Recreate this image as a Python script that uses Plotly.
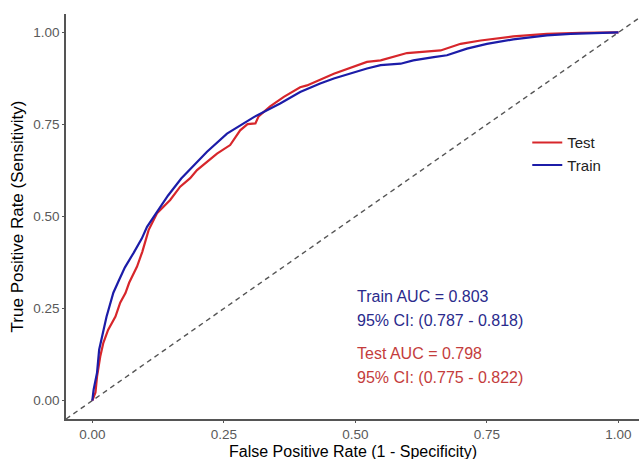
import plotly.graph_objects as go

# ROC curve points
train_fpr = [0, 0.0025, 0.009, 0.013, 0.027, 0.040, 0.050, 0.062, 0.078, 0.094, 0.104, 0.126,
             0.144, 0.169, 0.218, 0.256, 0.307, 0.357, 0.395, 0.433, 0.459, 0.522, 0.548,
             0.586, 0.610, 0.649, 0.674, 0.712, 0.750, 0.800, 0.864, 0.909, 0.966, 1.0]
train_tpr = [0, 0.030, 0.076, 0.138, 0.228, 0.293, 0.325, 0.362, 0.400, 0.440, 0.472, 0.518,
             0.557, 0.603, 0.676, 0.725, 0.770, 0.807, 0.838, 0.861, 0.875, 0.902, 0.911,
             0.915, 0.924, 0.933, 0.938, 0.956, 0.969, 0.981, 0.992, 0.996, 0.999, 1.0]

test_fpr = [0, 0.006, 0.009, 0.015, 0.021, 0.030, 0.044, 0.053, 0.063, 0.070, 0.085, 0.095,
            0.107, 0.123, 0.148, 0.167, 0.186, 0.199, 0.237, 0.262, 0.281, 0.295, 0.310,
            0.316, 0.338, 0.364, 0.395, 0.408, 0.459, 0.522, 0.548, 0.598, 0.662, 0.700,
            0.738, 0.800, 0.864, 0.928, 1.0]
test_tpr = [0, 0.022, 0.065, 0.119, 0.157, 0.192, 0.228, 0.266, 0.292, 0.320, 0.364, 0.404,
            0.463, 0.509, 0.545, 0.581, 0.604, 0.626, 0.671, 0.694, 0.734, 0.751, 0.753,
            0.772, 0.799, 0.825, 0.851, 0.856, 0.888, 0.920, 0.924, 0.944, 0.951, 0.969,
            0.978, 0.989, 0.996, 0.999, 1.0]

diag = [-0.05, 1.05]
tick_vals = [0, 0.25, 0.5, 0.75, 1.0]
tick_text = ["0.00", "0.25", "0.50", "0.75", "1.00"]

x_title = "False Positive Rate (1 - Specificity)"
y_title = "True Positive Rate (Sensitivity)"
train_label = ["Train AUC = 0.803", "95% CI: (0.787 - 0.818)"]
test_label = ["Test AUC = 0.798", "95% CI: (0.775 - 0.822)"]

RED = "#d7262b"
BLUE = "#1c1ca8"
FONT = "Liberation Sans, Arial, sans-serif"

fig = go.Figure()
fig.add_trace(go.Scatter(x=diag, y=diag, mode="lines", showlegend=False,
                         line=dict(color="#555555", width=1.4, dash="5px,4px"),
                         hoverinfo="skip"))
fig.add_trace(go.Scatter(x=test_fpr, y=test_tpr, mode="lines", name="Test",
                         line=dict(color=RED, width=2.2)))
fig.add_trace(go.Scatter(x=train_fpr, y=train_tpr, mode="lines", name="Train",
                         line=dict(color=BLUE, width=2.2)))

ann_y = [0.282, 0.217, 0.127, 0.062]
ann_txt = train_label + test_label
ann_col = ["#2a2a8c", "#2a2a8c", "#c43c3c", "#c43c3c"]
for t, yy, c in zip(ann_txt, ann_y, ann_col):
    fig.add_annotation(x=0.5, y=yy, xref="x", yref="y", text=t, showarrow=False,
                       xanchor="left", yanchor="middle",
                       font=dict(family=FONT, size=16, color=c))

# x-axis title placed just below the tick labels
fig.add_annotation(x=0.501, y=0, xref="paper", yref="paper", text=x_title,
                   showarrow=False, xanchor="center", yanchor="top", yshift=-22,
                   font=dict(family=FONT, size=16, color="black"))

axis_common = dict(showgrid=False, zeroline=False, showline=True, linecolor="#555555",
                   linewidth=1.5, ticks="outside", ticklen=2, tickcolor="#555555",
                   tickwidth=1.2, tickvals=tick_vals, ticktext=tick_text,
                   tickfont=dict(family=FONT, size=13.5, color="#595959"))

fig.update_layout(
    width=639, height=459,
    margin=dict(l=66, r=0, t=14, b=40),
    paper_bgcolor="white", plot_bgcolor="white",
    font=dict(family=FONT),
    xaxis=dict(range=[-0.05, 1.039], **axis_common),
    yaxis=dict(range=[-0.05, 1.05],
               title=dict(text=y_title, standoff=5,
                          font=dict(family=FONT, size=17, color="black")),
               **axis_common),
    legend=dict(x=0.805, y=0.655, xanchor="left", yanchor="middle",
                bgcolor="rgba(0,0,0,0)", font=dict(family=FONT, size=15, color="#222222"),
                tracegroupgap=0),
    showlegend=True,
)

fig.write_html("out.html")
